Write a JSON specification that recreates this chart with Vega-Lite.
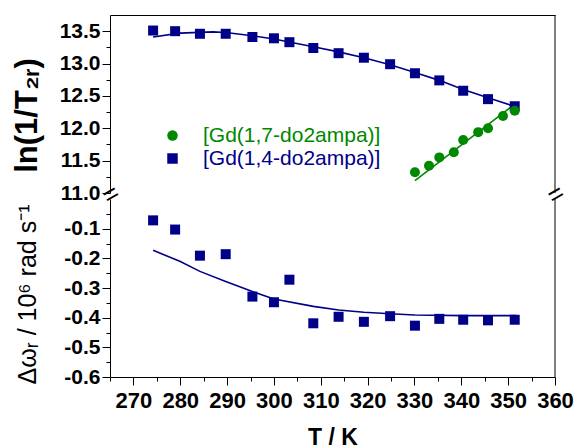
{
  "$schema": "https://vega.github.io/schema/vega-lite/v6.json",
  "padding": {"left": 10, "top": 14, "right": 5, "bottom": 5},
  "bounds": "flush",
  "spacing": 6,
  "background": "white",
  "config": {
    "view": {"stroke": null},
    "font": "Liberation Sans",
    "axis": {"grid": false, "domainColor": "#000", "tickColor": "#000", "domainWidth": 1, "tickWidth": 1, "labelFont": "Liberation Sans", "labelFontWeight": "bold", "labelFontSize": 21, "labelColor": "#000", "titleColor": "#000", "titleFont": "Liberation Sans", "labelFlush": false, "labelOverlap": false}
  },
  "datasets": {
    "top_points": [
      {"series": "[Gd(1,4-do2ampa)]", "T": 274.2, "v": 13.51},
      {"series": "[Gd(1,4-do2ampa)]", "T": 278.9, "v": 13.50},
      {"series": "[Gd(1,4-do2ampa)]", "T": 284.2, "v": 13.46},
      {"series": "[Gd(1,4-do2ampa)]", "T": 289.7, "v": 13.46},
      {"series": "[Gd(1,4-do2ampa)]", "T": 295.4, "v": 13.41},
      {"series": "[Gd(1,4-do2ampa)]", "T": 300.0, "v": 13.39},
      {"series": "[Gd(1,4-do2ampa)]", "T": 303.3, "v": 13.33},
      {"series": "[Gd(1,4-do2ampa)]", "T": 308.4, "v": 13.24},
      {"series": "[Gd(1,4-do2ampa)]", "T": 313.8, "v": 13.16},
      {"series": "[Gd(1,4-do2ampa)]", "T": 319.2, "v": 13.09},
      {"series": "[Gd(1,4-do2ampa)]", "T": 324.8, "v": 12.99},
      {"series": "[Gd(1,4-do2ampa)]", "T": 330.1, "v": 12.85},
      {"series": "[Gd(1,4-do2ampa)]", "T": 335.3, "v": 12.74},
      {"series": "[Gd(1,4-do2ampa)]", "T": 340.4, "v": 12.58},
      {"series": "[Gd(1,4-do2ampa)]", "T": 345.7, "v": 12.45},
      {"series": "[Gd(1,4-do2ampa)]", "T": 351.4, "v": 12.34},
      {"series": "[Gd(1,7-do2ampa)]", "T": 330.1, "v": 11.32},
      {"series": "[Gd(1,7-do2ampa)]", "T": 333.1, "v": 11.42},
      {"series": "[Gd(1,7-do2ampa)]", "T": 335.3, "v": 11.55},
      {"series": "[Gd(1,7-do2ampa)]", "T": 338.4, "v": 11.63},
      {"series": "[Gd(1,7-do2ampa)]", "T": 340.4, "v": 11.82},
      {"series": "[Gd(1,7-do2ampa)]", "T": 343.6, "v": 11.94},
      {"series": "[Gd(1,7-do2ampa)]", "T": 345.7, "v": 12.00},
      {"series": "[Gd(1,7-do2ampa)]", "T": 348.9, "v": 12.19},
      {"series": "[Gd(1,7-do2ampa)]", "T": 351.4, "v": 12.27}
    ],
    "top_fit": [
      {"series": "[Gd(1,4-do2ampa)]", "T": 274.2, "v": 13.41},
      {"series": "[Gd(1,4-do2ampa)]", "T": 279.9, "v": 13.47},
      {"series": "[Gd(1,4-do2ampa)]", "T": 287.0, "v": 13.49},
      {"series": "[Gd(1,4-do2ampa)]", "T": 289.7, "v": 13.48},
      {"series": "[Gd(1,4-do2ampa)]", "T": 295.4, "v": 13.43},
      {"series": "[Gd(1,4-do2ampa)]", "T": 300.0, "v": 13.38},
      {"series": "[Gd(1,4-do2ampa)]", "T": 308.4, "v": 13.26},
      {"series": "[Gd(1,4-do2ampa)]", "T": 313.8, "v": 13.18},
      {"series": "[Gd(1,4-do2ampa)]", "T": 319.2, "v": 13.09},
      {"series": "[Gd(1,4-do2ampa)]", "T": 324.8, "v": 12.98},
      {"series": "[Gd(1,4-do2ampa)]", "T": 330.1, "v": 12.86},
      {"series": "[Gd(1,4-do2ampa)]", "T": 335.3, "v": 12.74},
      {"series": "[Gd(1,4-do2ampa)]", "T": 340.4, "v": 12.60},
      {"series": "[Gd(1,4-do2ampa)]", "T": 345.7, "v": 12.47},
      {"series": "[Gd(1,4-do2ampa)]", "T": 351.7, "v": 12.33},
      {"series": "[Gd(1,7-do2ampa)]", "T": 330.1, "v": 11.19},
      {"series": "[Gd(1,7-do2ampa)]", "T": 351.7, "v": 12.39}
    ],
    "bottom_points": [
      {"T": 274.2, "v": -0.072},
      {"T": 278.9, "v": -0.103},
      {"T": 284.2, "v": -0.191},
      {"T": 289.7, "v": -0.186},
      {"T": 295.4, "v": -0.329},
      {"T": 300.0, "v": -0.348},
      {"T": 303.3, "v": -0.272},
      {"T": 308.4, "v": -0.419},
      {"T": 313.8, "v": -0.397},
      {"T": 319.2, "v": -0.414},
      {"T": 324.8, "v": -0.395},
      {"T": 330.1, "v": -0.427},
      {"T": 335.3, "v": -0.404},
      {"T": 340.4, "v": -0.407},
      {"T": 345.7, "v": -0.409},
      {"T": 351.4, "v": -0.407}
    ],
    "bottom_fit": [
      {"T": 274.2, "v": -0.173},
      {"T": 279.9, "v": -0.210},
      {"T": 284.2, "v": -0.244},
      {"T": 289.7, "v": -0.278},
      {"T": 295.4, "v": -0.312},
      {"T": 300.0, "v": -0.337},
      {"T": 308.4, "v": -0.362},
      {"T": 313.8, "v": -0.374},
      {"T": 319.2, "v": -0.382},
      {"T": 324.8, "v": -0.387},
      {"T": 330.1, "v": -0.391},
      {"T": 340.4, "v": -0.393},
      {"T": 351.7, "v": -0.393}
    ]
  },
  "vconcat": [
    {
      "width": 445,
      "height": 178,
      "encoding": {
        "x": {"field": "T", "type": "quantitative", "scale": {"domain": [265, 360], "nice": false, "zero": false}, "axis": {"orient": "top", "labels": false, "ticks": false, "title": null, "domain": true}},
        "y": {"field": "v", "type": "quantitative", "scale": {"domain": [11, 13.75], "nice": false, "zero": false}, "axis": {"values": [11, 11.25, 11.5, 11.75, 12, 12.25, 12.5, 12.75, 13, 13.25, 13.5], "labelOverlap": false, "title": "ln(1/T₂ᵣ)", "titleFontSize": 31, "titleFontWeight": "bold", "titleAngle": -90, "titleX": -83, "titleY": 100, "titleAlign": "center", "titleBaseline": "middle", "labelExpr": "round(datum.value*4) % 2 == 0 ? format(datum.value, '.1f') : ''", "tickSize": {"condition": {"test": "round(datum.value*4) % 2 == 0", "value": 8}, "value": 4}, "labelPadding": 2}}
      },
      "layer": [
        {
          "data": {"name": "top_fit"},
          "transform": [{"filter": "datum.series == '[Gd(1,4-do2ampa)]'"}],
          "mark": {"type": "line", "strokeWidth": 1.6, "color": "#000088"}
        },
        {
          "data": {"name": "top_fit"},
          "transform": [{"filter": "datum.series == '[Gd(1,7-do2ampa)]'"}],
          "mark": {"type": "line", "strokeWidth": 1.6, "color": "#008800"}
        },
        {
          "data": {"name": "top_points"},
          "mark": {"type": "point", "filled": true, "opacity": 1, "size": 100},
          "encoding": {
            "color": {"field": "series", "type": "nominal", "scale": {"domain": ["[Gd(1,7-do2ampa)]", "[Gd(1,4-do2ampa)]"], "range": ["#008800", "#000088"]}, "legend": {"orient": "none", "legendX": 52, "legendY": 110, "title": null, "labelFont": "Liberation Sans", "labelFontSize": 21, "labelLimit": 0, "labelOffset": 20, "rowPadding": 1, "symbolSize": 110, "symbolStrokeWidth": 0, "labelColor": {"expr": "datum.value == '[Gd(1,7-do2ampa)]' ? '#008800' : '#000088'"}}},
            "shape": {"field": "series", "type": "nominal", "scale": {"domain": ["[Gd(1,7-do2ampa)]", "[Gd(1,4-do2ampa)]"], "range": ["circle", "square"]}, "legend": {"orient": "none", "legendX": 52, "legendY": 110, "title": null, "labelFont": "Liberation Sans", "labelFontSize": 21, "labelLimit": 0, "labelOffset": 20, "rowPadding": 1, "symbolSize": 110, "symbolStrokeWidth": 0, "labelColor": {"expr": "datum.value == '[Gd(1,7-do2ampa)]' ? '#008800' : '#000088'"}}}
          }
        },
        {
          "data": {"values": [{"T": 360}]},
          "mark": {"type": "rule", "color": "#000", "strokeWidth": 1},
          "encoding": {"y": null}
        },
        {
          "data": {"values": [{"T": 265, "v": 11.0}, {"T": 360, "v": 11.0}]},
          "mark": {"type": "text", "text": "=", "angle": -30, "fontSize": 26, "baseline": "middle", "align": "center", "dy": 2, "color": "#000", "font": "Liberation Sans"}
        }
      ]
    },
    {
      "width": 445,
      "height": 178,
      "encoding": {
        "x": {"field": "T", "type": "quantitative", "scale": {"domain": [265, 360], "nice": false, "zero": false}, "axis": {"values": [265, 270, 275, 280, 285, 290, 295, 300, 305, 310, 315, 320, 325, 330, 335, 340, 345, 350, 355, 360], "labelOverlap": false, "title": "T / K", "titleFontSize": 23, "titleFontWeight": "bold", "titleY": 67, "titleBaseline": "alphabetic", "labelExpr": "datum.value % 10 == 0 ? format(datum.value, 'd') : ''", "tickSize": {"condition": {"test": "datum.value % 10 == 0", "value": 8}, "value": 4}, "labelFontSize": 22, "labelPadding": 5}},
        "y": {"field": "v", "type": "quantitative", "scale": {"domain": [-0.6, 0], "nice": false, "zero": false}, "axis": {"values": [-0.6, -0.55, -0.5, -0.45, -0.4, -0.35, -0.3, -0.25, -0.2, -0.15, -0.1, -0.05], "labelOverlap": false, "title": "Δωᵣ / 10⁶ rad s⁻¹", "titleFontSize": 25, "titleFontWeight": "normal", "titleAngle": -90, "titleX": -83, "titleY": 95, "titleAlign": "center", "titleBaseline": "middle", "labelExpr": "abs(round(datum.value*20)) % 2 == 0 ? '-' + format(abs(datum.value), '.1f') : ''", "tickSize": {"condition": {"test": "abs(round(datum.value*20)) % 2 == 0", "value": 8}, "value": 4}, "labelPadding": 2}}
      },
      "layer": [
        {
          "data": {"name": "bottom_fit"},
          "mark": {"type": "line", "strokeWidth": 1.6, "color": "#000088"}
        },
        {
          "data": {"name": "bottom_points"},
          "mark": {"type": "point", "shape": "square", "filled": true, "opacity": 1, "size": 100, "color": "#000088"}
        },
        {
          "data": {"values": [{"T": 360}]},
          "mark": {"type": "rule", "color": "#000", "strokeWidth": 1},
          "encoding": {"y": null}
        }
      ]
    }
  ]
}
